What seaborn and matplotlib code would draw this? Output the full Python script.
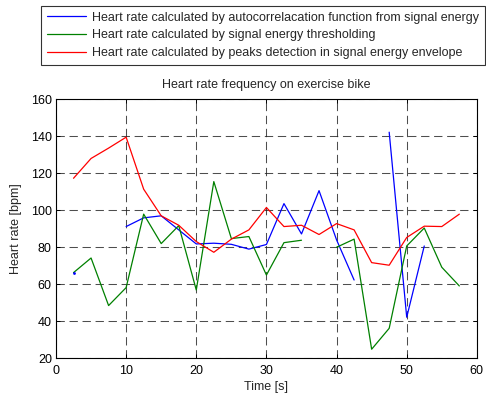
import numpy as np
import pandas as pd
import matplotlib
matplotlib.use("Agg")
import matplotlib.pyplot as plt
import seaborn as sns
from matplotlib.lines import Line2D

time_s = [2.5, 5, 7.5, 10, 12.5, 15, 17.5, 20, 22.5, 25, 27.5, 30, 32.5, 35,
          37.5, 40, 42.5, 45, 47.5, 50, 52.5, 55, 57.5]
nan = np.nan
autocorr = [66.3, nan, nan, 91.2, 95.9, 97.0, 89.4, 81.8, 82.2, 81.6, 79.0, 81.5,
            103.6, 87.2, 110.6, 84.0, 62.3, nan, 142.2, 42.2, 80.7, nan, nan]
threshold = [66.3, 74.2, 48.5, 58.2, 97.9, 82.0, 91.7, 56.9, 115.5, 84.7, 85.8, 65.0,
             82.5, 83.8, nan, 80.0, 84.4, 24.9, 36.2, 80.7, 90.4, 69.2, 59.1]
peaks = [117.3, 128.0, 133.6, 139.5, 111.4, 97.0, 91.9, 83.1, 77.3, 84.4, 89.4, 101.5,
         91.2, 91.9, 86.9, 92.8, 89.4, 71.7, 70.3, 85.3, 91.4, 91.2, 97.9]

labels = ["Heart rate calculated by autocorrelacation function from signal energy",
          "Heart rate calculated by signal energy thresholding",
          "Heart rate calculated by peaks detection in signal energy envelope"]
colors = ["#0000ff", "#008000", "#ff0000"]

rows = []
for lab, vals in zip(labels, [autocorr, threshold, peaks]):
    seg = 0
    prev_nan = True
    for t, v in zip(time_s, vals):
        if np.isnan(v):
            prev_nan = True
            continue
        if prev_nan:
            seg += 1
            prev_nan = False
        rows.append({"time": t, "hr": v, "series": lab, "seg": seg})
df = pd.DataFrame(rows)

sns.set_style("white")
plt.rcParams['font.family'] = ['Liberation Sans', 'DejaVu Sans']
plt.rcParams['font.size'] = 9
FS = 9

fig = plt.figure(figsize=(4.86, 3.97), dpi=100)
ax = fig.add_axes([0.1152, 0.0975, 0.866, 0.6525])

palette = dict(zip(labels, colors))
sns.lineplot(data=df, x="time", y="hr", hue="series", units="seg", estimator=None,
             palette=palette, hue_order=labels, linewidth=0.9, ax=ax, legend=False)

# isolated points (segments with a single sample)
counts = df.groupby(["series", "seg"]).size().reset_index(name="n")
single = df.merge(counts[counts.n == 1], on=["series", "seg"])
sns.scatterplot(data=single, x="time", y="hr", hue="series", palette=palette,
                hue_order=labels, s=4, linewidth=0, ax=ax, legend=False, zorder=5)

ax.set_xlim(0, 60)
ax.set_ylim(20, 160)
ax.set_xticks(np.arange(0, 61, 10))
ax.set_yticks(np.arange(20, 161, 20))
ax.grid(True, color="#222222", linestyle=(0, (8, 4.5)), linewidth=0.75, alpha=0.8)
for s in ax.spines.values():
    s.set_color("black")
    s.set_linewidth(0.8)
ax.tick_params(direction="in", length=3, width=0.7, top=True, right=True,
               bottom=True, left=True, labelsize=FS, pad=3, colors="black")
ax.tick_params(axis="x", pad=5)
ax.set_xlabel("Time [s]", fontsize=FS, labelpad=3)
ax.set_ylabel("Heart rate [bpm]", fontsize=FS, labelpad=6)
ax.set_title("Heart rate frequency on exercise bike", fontsize=FS, pad=8)

handles = [Line2D([0], [0], color=c, linewidth=0.9) for c in colors]
leg = fig.legend(handles, labels, loc="upper right", bbox_to_anchor=(0.998, 0.986),
                 frameon=True, fancybox=False, edgecolor="black", fontsize=FS,
                 handlelength=3.1, handletextpad=0.45, borderpad=0.5, labelspacing=0.45,
                 borderaxespad=0)
leg.get_frame().set_linewidth(0.8)

fig.savefig("out.png", dpi=100)
